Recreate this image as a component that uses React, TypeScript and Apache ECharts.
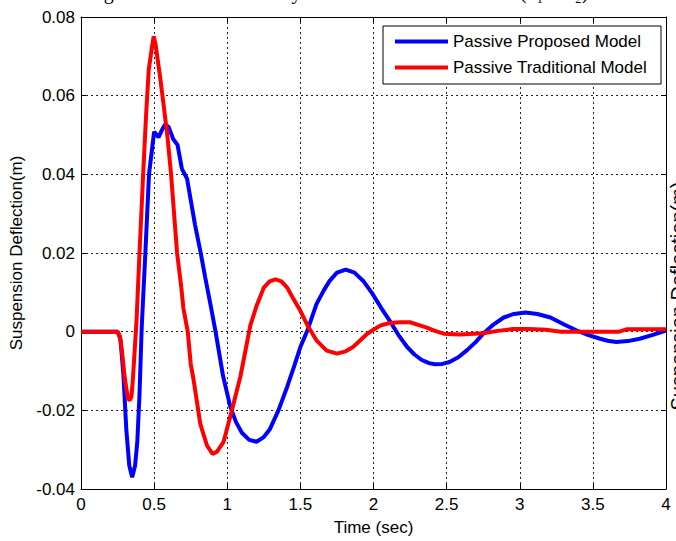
import React, { useEffect, useRef } from "react";
import * as echarts from "echarts";

const xTickLabels = ["0", "0.5", "1", "1.5", "2", "2.5", "3", "3.5", "4"];
const yTickLabels = ["-0.04", "-0.02", "0", "0.02", "0.04", "0.06", "0.08"];

const timeProposed = [
  0, 0.25, 0.27, 0.29, 0.31, 0.33, 0.35, 0.37, 0.385, 0.4, 0.415, 0.44, 0.465, 0.5, 0.53, 0.55, 0.575, 0.6,
  0.63, 0.66, 0.69, 0.725, 0.78, 0.816, 0.85, 0.89, 0.92, 0.97, 1.02, 1.06, 1.1, 1.15, 1.2, 1.25, 1.29, 1.35,
  1.41, 1.46, 1.5, 1.55, 1.61, 1.66, 1.7, 1.75, 1.81, 1.87, 1.93, 1.99, 2.05, 2.11, 2.17, 2.23, 2.28, 2.33,
  2.38, 2.42, 2.47, 2.52, 2.58, 2.64, 2.7, 2.75, 2.82, 2.89, 2.96, 3.04, 3.12, 3.21, 3.3, 3.39, 3.47, 3.55,
  3.6, 3.66, 3.74, 3.82, 3.91, 4.0,
];
const valuesProposed = [
  0, 0, -0.002, -0.011, -0.025, -0.034, -0.037, -0.034, -0.028, -0.016, 0.001, 0.02, 0.04, 0.0508, 0.0494,
  0.051, 0.0527, 0.052, 0.049, 0.0475, 0.0414, 0.0389, 0.0271, 0.0205, 0.0137, 0.006, 0.0, -0.011, -0.019,
  -0.023, -0.0257, -0.0275, -0.028, -0.0268, -0.0249, -0.02, -0.014, -0.0085, -0.0039, 0.0005, 0.007, 0.0105,
  0.0129, 0.015, 0.0158, 0.015, 0.0129, 0.0098, 0.0062, 0.0028, -0.0008, -0.0039, -0.0058, -0.0072, -0.008,
  -0.0083, -0.0082, -0.0077, -0.0065, -0.0047, -0.0026, -0.0005, 0.0018, 0.0036, 0.0045, 0.0049, 0.0045,
  0.0036, 0.0019, 0.0003, -0.0009, -0.0018, -0.0023, -0.0026, -0.0024, -0.0018, -0.0008, 0.0003,
];

const timeTraditional = [
  0, 0.25, 0.265, 0.28, 0.3, 0.32, 0.333, 0.345, 0.355, 0.365, 0.38, 0.4, 0.425, 0.445, 0.463, 0.48, 0.497,
  0.51, 0.54, 0.566, 0.59, 0.616, 0.657, 0.686, 0.7, 0.73, 0.75, 0.77, 0.816, 0.862, 0.9, 0.93, 0.975, 1.033,
  1.09, 1.158, 1.2, 1.25, 1.29, 1.33, 1.37, 1.41, 1.45, 1.5, 1.55, 1.61, 1.68, 1.75, 1.81, 1.86, 1.91, 1.955,
  2.0, 2.05, 2.11, 2.18, 2.25, 2.3, 2.36, 2.42, 2.48, 2.59, 2.75, 2.85, 2.96, 3.06, 3.18, 3.28, 3.5, 3.68,
  3.73, 4.0,
];
const valuesTraditional = [
  0, 0, -0.001, -0.005, -0.012, -0.0168, -0.0175, -0.0165, -0.012, -0.006, 0.003, 0.02, 0.04, 0.055, 0.0665,
  0.071, 0.0751, 0.073, 0.065, 0.0573, 0.05, 0.04, 0.02, 0.0112, 0.006, 0.0, -0.0081, -0.0123, -0.0235,
  -0.029, -0.0311, -0.0305, -0.028, -0.0198, -0.0114, 0.0016, 0.0065, 0.0112, 0.0128, 0.0133, 0.0128, 0.0112,
  0.0085, 0.0053, 0.0015, -0.0022, -0.0048, -0.0056, -0.005, -0.0039, -0.0022, -0.0006, 0.0005, 0.0016,
  0.0022, 0.0024, 0.0024, 0.0018, 0.0011, 0.0002, -0.0005, -0.0007, -0.0004, 0.0002, 0.0007, 0.0007, 0.0005,
  0, 0, 0, 0.0006, 0.0006,
];

const seriesNames = ["Passive Proposed Model", "Passive Traditional Model"];
const xAxisTitle = "Time (sec)";
const yAxisTitle = "Suspension Deflection(m)";
const topTitle = "Sliding Mode Control of Body Travel Under Road Shock (x\u2081 \u2212 x\u2082)";

const FONT = "'Liberation Sans', Arial, Helvetica, sans-serif";

function zip(t: number[], v: number[]) {
  return t.map((x, i) => [x, v[i]]);
}

export default function App() {
  const ref = useRef<HTMLDivElement>(null);
  useEffect(() => {
    const chart = echarts.init(ref.current!, null, { renderer: "svg" });
    const dotted = { type: [2, 3] as any, color: "#222", width: 1 };
    const tick = { show: true, inside: true, length: 5, lineStyle: { color: "#000", width: 1 } };
    const axisLine = { show: true, onZero: false, lineStyle: { color: "#000", width: 1 } };
    chart.setOption({
      animation: false,
      backgroundColor: "#fff",
      textStyle: { fontFamily: FONT },
      grid: { left: 80, top: 17, width: 586, height: 476, containLabel: false },
      legend: {
        data: seriesNames,
        orient: "vertical",
        left: 383,
        top: 26,
        padding: [7, 14, 8, 12],
        itemGap: 9,
        itemWidth: 53,
        itemHeight: 4,
        icon: "rect",
        backgroundColor: "#fff",
        borderColor: "#000",
        borderWidth: 1,
        borderRadius: 0,
        textStyle: { fontSize: 17, color: "#000", fontFamily: FONT, lineHeight: 17 },
      },
      xAxis: [
        {
          type: "value",
          min: 0,
          max: 4,
          interval: 0.5,
          position: "bottom",
          name: xAxisTitle,
          nameLocation: "middle",
          nameGap: 30,
          nameTextStyle: { fontSize: 17, color: "#000", fontFamily: FONT },
          axisLine,
          axisTick: tick,
          axisLabel: {
            fontSize: 17,
            color: "#000",
            margin: 7,
            fontFamily: FONT,
            formatter: (v: number) => xTickLabels[Math.round(v / 0.5)] ?? "",
          },
          splitLine: { show: true, lineStyle: dotted },
        },
        {
          type: "value",
          min: 0,
          max: 4,
          interval: 0.5,
          position: "top",
          axisLine,
          axisTick: tick,
          axisLabel: { show: false },
          splitLine: { show: false },
        },
      ],
      yAxis: [
        {
          type: "value",
          min: -0.04,
          max: 0.08,
          interval: 0.02,
          position: "left",
          name: yAxisTitle,
          nameLocation: "middle",
          nameGap: 56,
          nameTextStyle: { fontSize: 17, color: "#000", fontFamily: FONT },
          axisLine,
          axisTick: tick,
          axisLabel: {
            fontSize: 17,
            color: "#000",
            margin: 6,
            fontFamily: FONT,
            formatter: (v: number) => yTickLabels[Math.round((v + 0.04) / 0.02)] ?? "",
          },
          splitLine: { show: true, lineStyle: dotted },
        },
        {
          type: "value",
          min: -0.04,
          max: 0.08,
          interval: 0.02,
          position: "right",
          axisLine,
          axisTick: tick,
          axisLabel: { show: false },
          splitLine: { show: false },
        },
      ],
      graphic: [
        {
          type: "text",
          left: 56,
          top: -18,
          silent: true,
          style: {
            text: topTitle,
            fontFamily: "'Liberation Serif', 'Times New Roman', serif",
            fontSize: 20,
            fill: "#000",
          },
        },
        {
          type: "text",
          x: 668,
          y: 296,
          rotation: Math.PI / 2,
          silent: true,
          style: {
            text: yAxisTitle,
            fontFamily: FONT,
            fontSize: 20,
            fill: "#000",
            align: "center",
            verticalAlign: "top",
          },
        },
      ],
      series: [
        {
          name: seriesNames[0],
          type: "line",
          xAxisIndex: 0,
          yAxisIndex: 0,
          showSymbol: false,
          symbol: "none",
          smooth: false,
          color: "#0000ff",
          lineStyle: { color: "#0000ff", width: 4 },
          data: zip(timeProposed, valuesProposed),
        },
        {
          name: seriesNames[1],
          type: "line",
          xAxisIndex: 0,
          yAxisIndex: 0,
          showSymbol: false,
          symbol: "none",
          smooth: false,
          color: "#ff0000",
          lineStyle: { color: "#ff0000", width: 4 },
          data: zip(timeTraditional, valuesTraditional),
        },
      ],
    });
    return () => chart.dispose();
  }, []);
  return (
    <div
      ref={ref}
      style={{ position: "fixed", left: 0, top: 0, width: 676, height: 541, background: "#fff" }}
    />
  );
}
